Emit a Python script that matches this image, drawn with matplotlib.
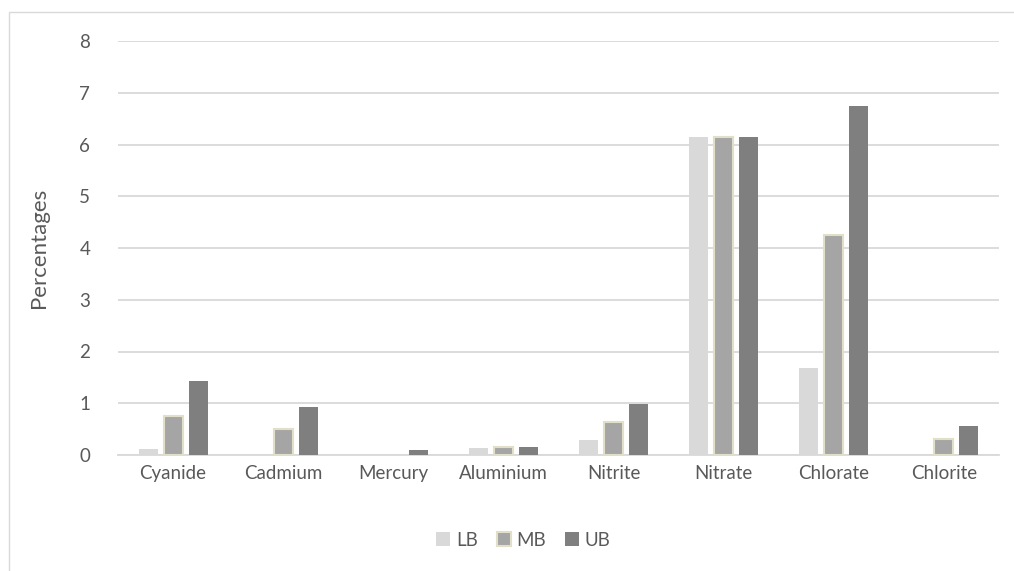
import numpy as np
import matplotlib.pyplot as plt
from matplotlib.patches import Rectangle

# Data
categories = ['Cyanide', 'Cadmium', 'Mercury', 'Aluminium', 'Nitrite', 'Nitrate', 'Chlorate', 'Chlorite']
lb = [0.11, 0.0, 0.0, 0.13, 0.29, 6.15, 1.68, 0.0]
mb = [0.76, 0.50, 0.0, 0.15, 0.64, 6.15, 4.25, 0.30]
ub = [1.43, 0.93, 0.09, 0.16, 0.99, 6.15, 6.74, 0.57]

plt.rcParams['font.family'] = ['Lato', 'DejaVu Sans']
txt = '#595959'

fig = plt.figure(figsize=(10.14, 5.71), dpi=100)
ax = fig.add_axes([118/1014, 1 - 455/571, 881/1014, 414/571])

# borda cinza clara do gráfico
fig.patches.append(Rectangle((9/1014, -0.1), 1.1, 1 - 12/571 + 0.1, transform=fig.transFigure,
                             fill=False, edgecolor='#d9d9d9', lw=1))

x = np.arange(len(categories))
w = 0.173
off = 0.227
ax.bar(x - off, lb, w, color='#d9d9d9', label='LB', zorder=3)
mb_edge = [1.5 if v > 0 else 0 for v in mb]
ax.bar(x, mb, w, color='#a5a5a5', edgecolor='#e2dfc8', linewidth=mb_edge, label='MB', zorder=3)
ax.bar(x + off, ub, w, color='#7f7f7f', label='UB', zorder=3)

ax.set_xlim(-0.5, len(categories) - 0.5)
ax.set_ylim(0, 8)
ax.set_yticks(range(0, 9))
ax.set_xticks(x)
ax.set_xticklabels(categories)
ax.yaxis.grid(True, color='#d9d9d9', lw=1.3, zorder=0)
for s in ['top', 'right', 'left']:
    ax.spines[s].set_visible(False)
ax.spines['bottom'].set_color('#d9d9d9')
ax.spines['bottom'].set_linewidth(1.3)
ax.tick_params(axis='both', length=0, labelsize=13.5, colors=txt)
ax.tick_params(axis='y', pad=20)
ax.tick_params(axis='x', pad=7)
ax.set_ylabel('Percentages', fontsize=16, color=txt, labelpad=22)

leg = ax.legend(loc='upper center', bbox_to_anchor=(0.46, -0.145), ncol=3, frameon=False,
                fontsize=13.5, handlelength=0.75, handleheight=0.75, handletextpad=0.3,
                columnspacing=1.0, labelcolor=txt)

fig.savefig('out.png', dpi=100, facecolor='white')
